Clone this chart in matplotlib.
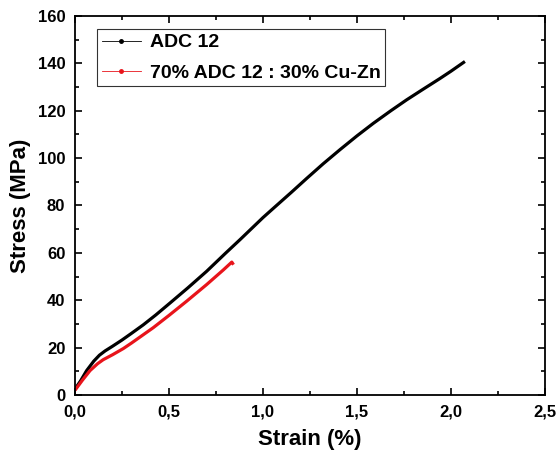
import matplotlib
matplotlib.use('Agg')
import matplotlib.pyplot as plt
from matplotlib.lines import Line2D
from matplotlib import ticker

plt.rcParams['font.family'] = ['Liberation Sans', 'DejaVu Sans']
plt.rcParams['font.weight'] = 'bold'

# stress-strain curves
adc_strain = [0, 0.03, 0.062, 0.1, 0.13, 0.16, 0.2, 0.25, 0.3, 0.363, 0.43, 0.505,
              0.6, 0.7, 0.8, 0.878, 1.0, 1.055, 1.15, 1.232, 1.32, 1.41, 1.5, 1.587,
              1.68, 1.764, 1.85, 1.941, 2.0, 2.074]
adc_stress = [2.5, 6.0, 10.3, 14.3, 16.8, 18.6, 20.6, 23.2, 26.0, 29.6, 33.8, 38.8,
              45.2, 52.2, 59.8, 65.6, 74.9, 78.8, 85.5, 91.4, 97.6, 103.6, 109.4, 114.7,
              120.0, 124.6, 129.0, 133.6, 136.7, 140.8]

mix_strain = [0, 0.04, 0.08, 0.12, 0.15, 0.2, 0.257, 0.3, 0.35, 0.416, 0.5, 0.594,
              0.7, 0.789, 0.834, 0.843]
mix_stress = [2.0, 6.3, 10.3, 13.2, 14.9, 17.0, 19.6, 21.9, 24.7, 28.4, 33.6, 39.6,
              46.6, 52.8, 56.1, 55.0]

labels = ['ADC 12', '70% ADC 12 : 30% Cu-Zn']
colors = ['black', '#e8141b']

fig = plt.figure(figsize=(5.58, 4.57), dpi=100)
ax = fig.add_axes([0.1344, 0.1357, 0.8423, 0.8293])

ax.plot(adc_strain, adc_stress, color=colors[0], lw=2.3, solid_capstyle='butt')
ax.plot(mix_strain, mix_stress, color=colors[1], lw=2.3, solid_capstyle='butt')

ax.set_xlim(0, 2.5)
ax.set_ylim(0, 160)
ax.xaxis.set_major_locator(ticker.MultipleLocator(0.5))
ax.xaxis.set_minor_locator(ticker.MultipleLocator(0.25))
ax.yaxis.set_major_locator(ticker.MultipleLocator(20))
ax.yaxis.set_minor_locator(ticker.MultipleLocator(10))
ax.xaxis.set_major_formatter(ticker.FuncFormatter(lambda v, p: ('%.1f' % v).replace('.', ',')))

ax.tick_params(which='both', direction='in', top=True, right=True, width=1.2)
ax.tick_params(which='major', length=5, labelsize=12, pad=7)
ax.tick_params(which='minor', length=3)
for lbl in ax.get_xticklabels() + ax.get_yticklabels():
    lbl.set_fontweight('bold')
for sp in ax.spines.values():
    sp.set_linewidth(1.3)

ax.set_xlabel('Strain (%)', fontsize=16, fontweight='bold', labelpad=7)
ax.set_ylabel('Stress (MPa)', fontsize=16, fontweight='bold', labelpad=5)

handles = [Line2D([], [], color=c, lw=0.6, marker='o', markersize=2.5) for c in colors]
leg = ax.legend(handles, labels, loc='upper left', bbox_to_anchor=(0.047, 0.966),
                fontsize=14, frameon=True, fancybox=False, edgecolor='black',
                handlelength=2.0, borderpad=0.25, labelspacing=0.65, handletextpad=0.45,
                borderaxespad=0)
leg.get_frame().set_linewidth(0.8)
for t in leg.get_texts():
    t.set_fontweight('bold')

fig.savefig('out.png', dpi=100)
